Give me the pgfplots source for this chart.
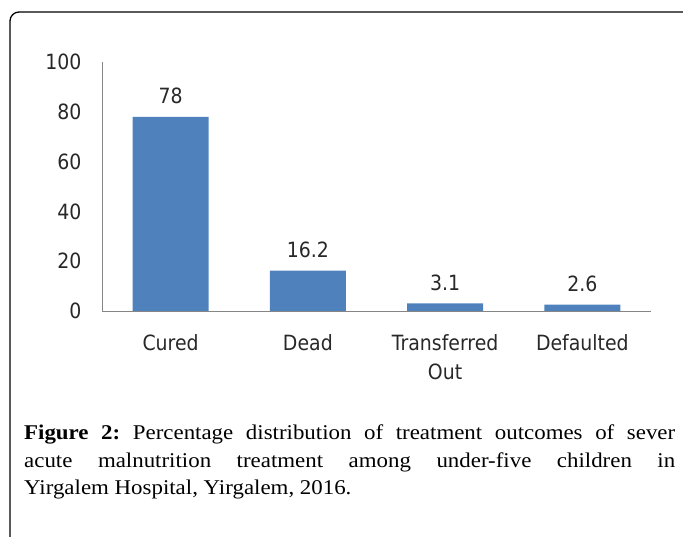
\documentclass[border=0pt]{standalone}
\usepackage{fontspec}
\setmainfont{Liberation Serif}[FakeStretch=1.09]
\newfontfamily\chartfont{DejaVu Sans}[FakeStretch=0.9]
\usepackage{pgfplots}
\pgfplotsset{compat=1.18}
\definecolor{barblue}{RGB}{79,129,189}
\definecolor{axgray}{RGB}{134,134,134}
\definecolor{txtgray}{RGB}{40,40,40}
\begin{document}
\begin{tikzpicture}[x=1pt,y=1pt]
\useasboundingbox (0,0) rectangle (683,536);
\begin{scope}
\clip (0,0) rectangle (683,536);
\draw[line width=1.3pt, rounded corners=9pt] (10,-20) -- (10,524) -- (720,524);
\end{scope}
\begin{axis}[
  at={(102pt,225pt)}, anchor=south west,
  scale only axis, width=549pt, height=249pt,
  xmin=-0.5, xmax=3.5, ymin=0, ymax=100,
  axis x line=bottom, axis y line=left,
  axis line style={-, draw=axgray, line width=0.8pt},
  ytick={0,20,40,60,80,100},
  xtick={0,1,2,3},
  xticklabels={Cured,Dead,{Transferred\\Out},Defaulted},
  major tick length=0pt,
  /pgf/number format/assume math mode=true,
  tick label style={font=\chartfont\fontsize{21}{29.5}\selectfont, text=txtgray},
  xticklabel style={align=center, yshift=-20pt},
  yticklabel style={xshift=-17pt},
  ybar, bar width=76pt,
  nodes near coords,
  every node near coord/.append style={font=\chartfont\fontsize{21}{24}\selectfont, text=txtgray, yshift=9pt},
]
\addplot[fill=barblue, draw=none] coordinates {(0,78) (1,16.2) (2,3.1) (3,2.6)};
\end{axis}
\node[anchor=north west, inner sep=0pt, text width=651pt, align=justify,
  font=\fontsize{21}{27.5}\selectfont] at (24,111)
  {\frenchspacing\textbf{Figure 2:} Percentage distribution of treatment outcomes of sever\linebreak
   acute malnutrition treatment among under-five children in\linebreak
   Yirgalem Hospital, Yirgalem, 2016.};
\end{tikzpicture}
\end{document}
